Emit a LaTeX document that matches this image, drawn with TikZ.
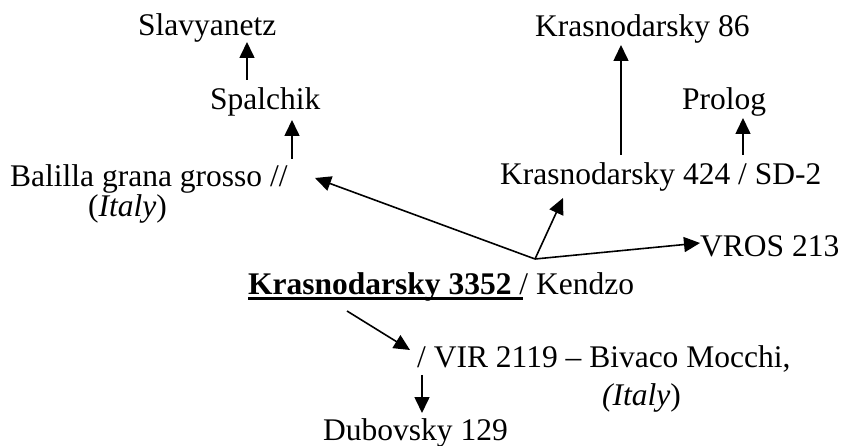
\documentclass[tikz,border=0pt]{standalone}
\usepackage{fontspec}
\setmainfont{Liberation Serif}
\usetikzlibrary{arrows.meta}
\begin{document}
\begin{tikzpicture}[x=1pt,y=-1pt,
  lbl/.style={anchor=base west,inner sep=0pt,font=\fontsize{31.5pt}{36pt}\selectfont},
  arr/.style={-{Triangle[length=16pt,width=15pt]},line width=1.6pt},
  ln/.style={line width=1.6pt}]
\useasboundingbox (0,0) rectangle (841,446);
% nodes
\node[lbl] (slav) at (138,36) {Slavyanetz};
\node[lbl] (spal) at (210,110) {Spalchik};
\node[lbl] (bal) at (10,187) {Balilla grana grosso //};
\node[lbl] (bal2) at (88,217) {(\textit{Italy})};
\node[lbl] (k86) at (535,37) {Krasnodarsky 86};
\node[lbl] (prolog) at (682,110) {Prolog};
\node[lbl] (k424) at (500,185) {Krasnodarsky 424 / SD-2};
\node[lbl] (vros) at (700,257) {VROS 213};
\node[lbl] (main) at (248,295) {\rlap{\rule[-5.5pt]{275pt}{3pt}}\textbf{Krasnodarsky 3352 }/ Kendzo};
\node[lbl] (vir) at (417,367) {/ VIR 2119 – Bivaco Mocchi,};
\node[lbl] (vir2) at (602,405) {\textit{(Italy})};
\node[lbl] (dub) at (323,440) {Dubovsky 129};
% connector end points
\coordinate (spalTop) at (247,80);
\coordinate (slavBot) at (247,42);
\coordinate (balTop) at (292,159);
\coordinate (spalBot) at (292,120);
\coordinate (j) at (535,259);
\coordinate (balEnd) at (315,178);
\coordinate (k424End) at (563,198);
\coordinate (vrosEnd) at (700,243);
\coordinate (k424Top) at (621,155);
\coordinate (k86Bot) at (621,45);
\coordinate (k424TopR) at (743,155);
\coordinate (prologBot) at (743,118);
\coordinate (mainBot) at (347,311);
\coordinate (virEnd) at (410,350);
\coordinate (virBot) at (422,375);
\coordinate (dubTop) at (422,413);
% connectors
\draw[arr] (spalTop) -- (slavBot);
\draw[arr] (balTop) -- (spalBot);
\draw[arr] (j) -- (balEnd);
\draw[arr] (j) -- (k424End);
\draw[arr] (j) -- (vrosEnd);
\draw[arr] (k424Top) -- (k86Bot);
\draw[arr] (k424TopR) -- (prologBot);
\draw[arr] (mainBot) -- (virEnd);
\draw[arr] (virBot) -- (dubTop);
\end{tikzpicture}
\end{document}
